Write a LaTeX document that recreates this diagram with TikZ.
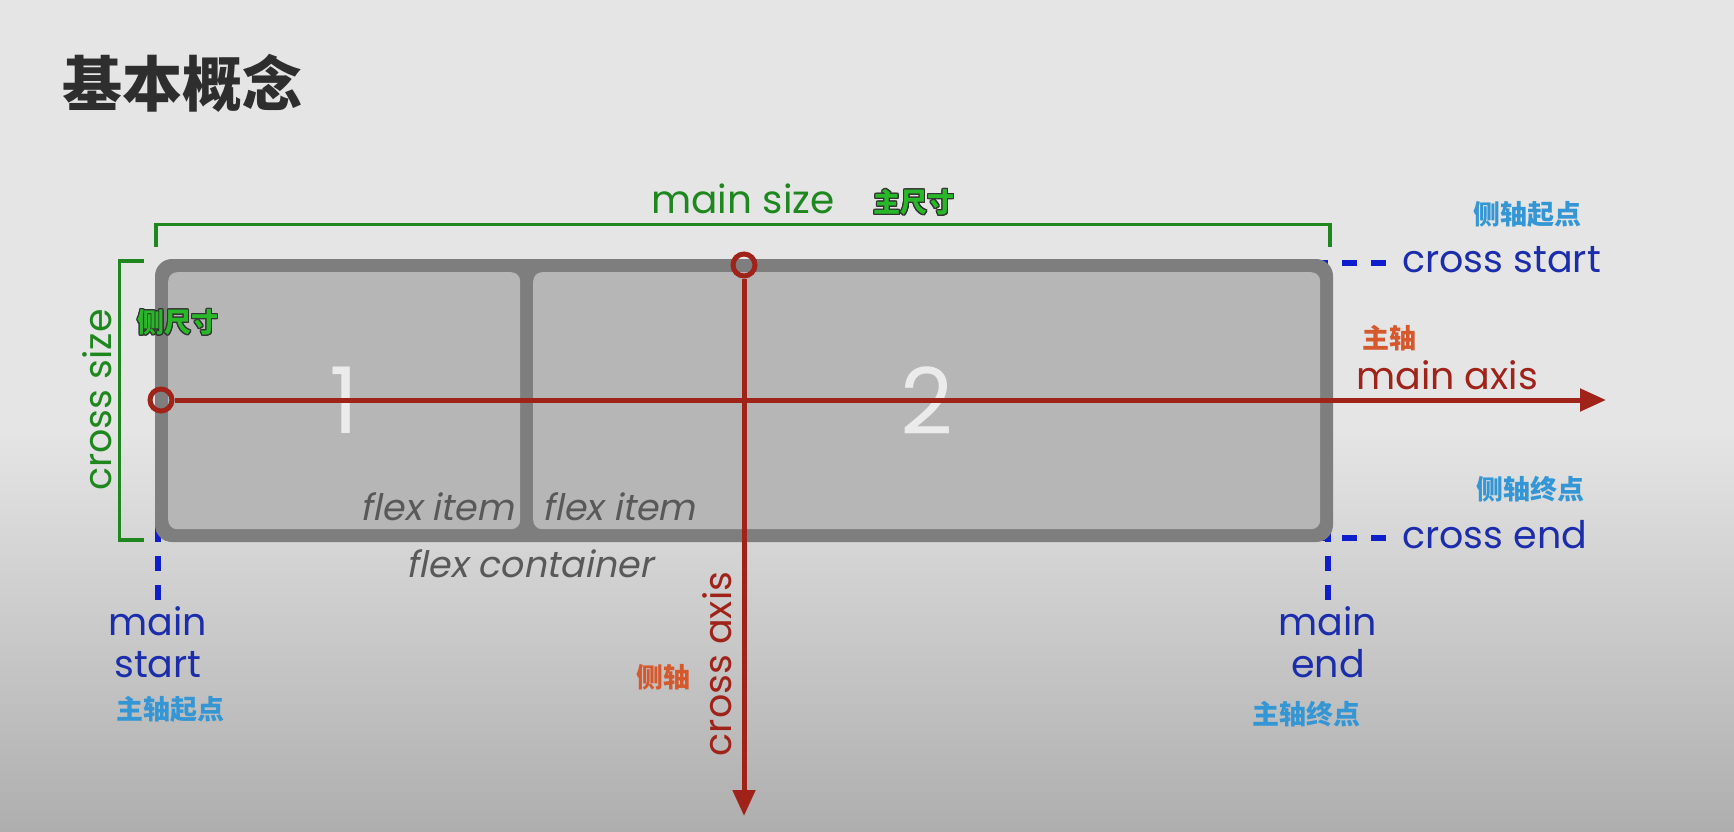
\documentclass[tikz,border=0pt]{standalone}
\usepackage{fontspec}
\usepackage{contour}
\setmainfont{Poppins}
\newfontfamily\slfont{Poppins}[FakeSlant=0.2]
\newfontfamily\cjk{Noto Sans CJK SC}
\usetikzlibrary{arrows.meta,positioning}
\contourlength{1.3pt}
\definecolor{bgtop}{RGB}{229,229,229}
\definecolor{bgbot}{RGB}{174,174,174}
\definecolor{boxgray}{RGB}{126,126,126}
\definecolor{itemgray}{RGB}{182,182,182}
\definecolor{szgreen}{RGB}{30,135,30}
\definecolor{cngreen}{RGB}{40,185,40}
\definecolor{axred}{RGB}{160,35,25}
\definecolor{cnred}{RGB}{214,88,45}
\definecolor{edblue}{RGB}{28,45,172}
\definecolor{dashblue}{RGB}{14,30,205}
\definecolor{cnblue}{RGB}{52,150,212}
\tikzset{
  container/.style = {fill=boxgray, rounded corners=17pt, inner sep=0pt},
  item/.style      = {fill=itemgray, rounded corners=9pt, inner sep=0pt,
                      minimum height=257pt, anchor=north west},
  num/.style       = {text=white!72!itemgray, inner sep=0pt,
                      font=\fontsize{92}{92}\selectfont},
  lbl/.style       = {inner sep=0pt, font=\fontsize{38}{42}\selectfont},
  slant/.style     = {inner sep=0pt, text=black!65, font=\slfont\fontsize{36.5}{38}\selectfont},
  cnlbl/.style     = {inner sep=0pt, font=\cjk\bfseries\fontsize{27}{29}\selectfont},
  bracket/.style   = {draw=szgreen, line width=3.5pt},
  axis/.style      = {draw=axred, line width=5pt, -{Triangle[length=26pt,width=22pt]}},
  axorigin/.style  = {circle, draw=axred, line width=5pt, minimum size=22pt, inner sep=0pt},
  limitdash/.style = {draw=dashblue, line width=6pt, dash pattern=on 15pt off 14pt},
}
\begin{document}
\begin{tikzpicture}[x=1pt,y=-1pt]
  \fill[bgtop] (0,0) rectangle (1734,832);
  \shade[top color=bgtop, bottom color=bgbot] (0,430) rectangle (1734,832);
  \useasboundingbox (0,0) rectangle (1734,832);

  \node[anchor=west, inner sep=0pt, text=black!82,
        font=\cjk\bfseries\fontsize{60}{62}\selectfont] (title) at (62,83) {基本概念};

  % start/end marks, drawn under the container
  \coordinate (tr) at (1313,263);
  \coordinate (br) at (1313,538);
  \coordinate (bl) at (158,527);
  \coordinate (be) at (1328,527);
  \node[lbl, text=edblue, anchor=base west] (cstart) at (1402,272) {cross start};
  \node[lbl, text=edblue, anchor=base west] (cend) at (1402,548) {cross end};
  \node[lbl, text=edblue, align=center, anchor=north] (mstart) at (158,606) {main\\start};
  \node[lbl, text=edblue, align=center, anchor=north] (mend) at (1328,606) {main\\end};
  \draw[limitdash, shorten >=15pt] (tr) -- (tr -| cstart.west);
  \draw[limitdash, shorten >=15pt] (br) -- (br -| cend.west);
  \draw[limitdash, shorten >=3pt] (bl) -- (bl |- mstart.north);
  \draw[limitdash, shorten >=3pt] (be) -- (be |- mend.north);

  % container and items
  \node[container, minimum width=1178pt, minimum height=283pt] (box) at (744,400.5) {};
  \node[item, minimum width=352pt] (it1) at (168,272) {};
  \node[item, minimum width=787pt] (it2) at (533,272) {};
  \node[num] (n1) at (it1) {1};
  \node[num] (n2) at (it2) {2};
  \node[slant, above left=8pt and 6pt of it1.south east] (fi1) {flex item};
  \node[slant, above right=8pt and 9pt of it2.south west] (fi2) {flex item};
  \node[slant, anchor=north] (fc) at (530,549) {flex container};

  % sizes
  \draw[bracket] (156,247) -- (156,224.5) -- (1330,224.5) -- (1330,247);
  \draw[bracket] (144,261) -- (119.5,261) -- (119.5,540) -- (144,540);
  \node[lbl, text=szgreen, anchor=base, font=\fontsize{39}{42}\selectfont] (msize) at (743,213) {main size};
  \node[lbl, text=szgreen, rotate=90] (csize) at (97,400) {cross size};
  \node[cnlbl, text=cngreen] (msizecn) at (914,203) {\contour{black!80}{主尺寸}};
  \node[cnlbl, text=cngreen] (csizecn) at (178,323) {\contour{black!80}{侧尺寸}};

  % axes
  \node[axorigin] (ms) at (161,400) {};
  \node[axorigin] (cs) at (744,265) {};
  \coordinate (maend) at (1606,400);
  \coordinate (caend) at (744,816);
  \draw[axis] (ms) -- (maend);
  \draw[axis] (cs) -- (caend);
  \node[lbl, text=axred, anchor=base west] (maxis) at (1356,389) {main axis};
  \node[lbl, text=axred, rotate=90] (caxis) at (717,664) {cross axis};
  \node[cnlbl, text=cnred] (maxiscn) at (1389,338) {主轴};
  \node[cnlbl, text=cnred] (caxiscn) at (663,677) {侧轴};

  \foreach \nm/\x/\y/\txt in {csc/1527/214/侧轴起点, cec/1530/489/侧轴终点,
                             msc/170/709/主轴起点, mec/1306/714/主轴终点}
    \node[cnlbl, text=cnblue] (\nm) at (\x,\y) {\txt};
\end{tikzpicture}
\end{document}
